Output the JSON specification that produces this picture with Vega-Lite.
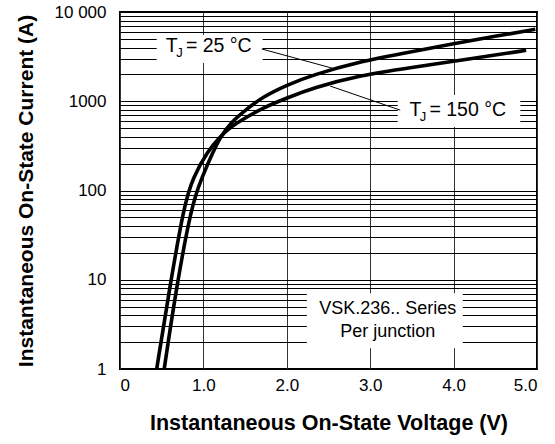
{
  "$schema": "https://vega.github.io/schema/vega-lite/v6.json",
  "width": 417,
  "height": 357,
  "autosize": "none",
  "padding": {"left": 120, "top": 12, "right": 18, "bottom": 75},
  "background": "white",
  "config": {
    "view": {"stroke": "black", "strokeWidth": 2},
    "font": "Liberation Sans"
  },
  "datasets": {
    "curves": [
      {"series": "25", "v": 0.53, "i": 1},
      {"series": "25", "v": 0.67, "i": 7.6},
      {"series": "25", "v": 0.86, "i": 70},
      {"series": "25", "v": 0.983, "i": 140},
      {"series": "25", "v": 1.115, "i": 270},
      {"series": "25", "v": 1.2, "i": 390},
      {"series": "25", "v": 1.32, "i": 570},
      {"series": "25", "v": 1.52, "i": 818},
      {"series": "25", "v": 1.71, "i": 1115},
      {"series": "25", "v": 2.0, "i": 1520},
      {"series": "25", "v": 2.31, "i": 1968},
      {"series": "25", "v": 2.88, "i": 2800},
      {"series": "25", "v": 3.5, "i": 3600},
      {"series": "25", "v": 4.0, "i": 4400},
      {"series": "25", "v": 4.5, "i": 5350},
      {"series": "25", "v": 4.98, "i": 6400},
      {"series": "150", "v": 0.44, "i": 1},
      {"series": "150", "v": 0.59, "i": 7.6},
      {"series": "150", "v": 0.77, "i": 70},
      {"series": "150", "v": 0.875, "i": 140},
      {"series": "150", "v": 1.055, "i": 280},
      {"series": "150", "v": 1.2, "i": 400},
      {"series": "150", "v": 1.32, "i": 514},
      {"series": "150", "v": 1.52, "i": 665},
      {"series": "150", "v": 1.71, "i": 840},
      {"series": "150", "v": 2.0, "i": 1086},
      {"series": "150", "v": 2.31, "i": 1406},
      {"series": "150", "v": 2.88, "i": 1960},
      {"series": "150", "v": 3.5, "i": 2390},
      {"series": "150", "v": 4.0, "i": 2800},
      {"series": "150", "v": 4.5, "i": 3300},
      {"series": "150", "v": 4.87, "i": 3720}
    ],
    "boxes": [
      {"v": 0.44, "v2": 1.71, "i": 2680, "i2": 5520},
      {"v": 3.33, "v2": 4.80, "i": 513, "i2": 1175},
      {"v": 2.24, "v2": 4.11, "i": 1.71, "i2": 7.08}
    ],
    "leaders": [
      {"v": 1.70, "v2": 2.58, "i": 3850, "i2": 2300},
      {"v": 2.52, "v2": 3.36, "i": 1480, "i2": 795}
    ],
    "texts": [
      {"v": 0.55, "i": 4160, "t": "T", "size": 19.5},
      {"v": 0.675, "i": 3500, "t": "J", "size": 13},
      {"v": 0.79, "i": 4160, "t": "= 25 °C", "size": 19.5},
      {"v": 3.47, "i": 795, "t": "T", "size": 19.5},
      {"v": 3.595, "i": 670, "t": "J", "size": 13},
      {"v": 3.71, "i": 795, "t": "= 150 °C", "size": 19.5}
    ],
    "notes": [
      {"v": 3.21, "i": 4.68, "t": "VSK.236.. Series"},
      {"v": 3.21, "i": 2.59, "t": "Per junction"}
    ]
  },
  "encoding": {
    "x": {
      "field": "v",
      "type": "quantitative",
      "scale": {"domain": [0, 5], "nice": false, "zero": false},
      "axis": {
        "title": "Instantaneous On-State Voltage (V)",
        "values": [0, 1, 2, 3, 4, 5],
        "labelExpr": "datum.value == 0 ? '0' : format(datum.value, '.1f')",
        "grid": true,
        "gridColor": "#333333",
        "gridWidth": 1,
        "gridOpacity": 1,
        "ticks": false,
        "domain": false,
        "labelFontSize": 17,
        "labelColor": "black",
        "labelPadding": 8,
        "labelFont": "Liberation Sans",
        "titleFont": "Liberation Sans",
        "titleFontSize": 21.5,
        "titleFontWeight": "bold",
        "titleColor": "black",
        "titlePadding": 19
      }
    },
    "y": {
      "field": "i",
      "type": "quantitative",
      "scale": {"type": "log", "domain": [1, 10000], "nice": false},
      "axis": {
        "title": "Instantaneous On-State Current (A)",
        "values": [1, 2, 3, 4, 5, 6, 7, 8, 9, 10, 20, 30, 40, 50, 60, 70, 80, 90, 100, 200, 300, 400, 500, 600, 700, 800, 900, 1000, 2000, 3000, 4000, 5000, 6000, 7000, 8000, 9000, 10000],
        "labelExpr": "datum.value == 10000 ? '10 000' : (datum.value == 1 || datum.value == 10 || datum.value == 100 || datum.value == 1000) ? toString(datum.value) : ''",
        "labelOverlap": false,
        "labelBound": false,
        "grid": true,
        "gridColor": "black",
        "gridWidth": 1.2,
        "gridOpacity": 1,
        "ticks": false,
        "domain": false,
        "labelFontSize": 17,
        "labelColor": "black",
        "labelPadding": 14,
        "labelFont": "Liberation Sans",
        "titleFont": "Liberation Sans",
        "titleFontSize": 21,
        "titleFontWeight": "bold",
        "titleColor": "black",
        "titlePadding": 18
      }
    }
  },
  "layer": [
    {
      "data": {"name": "boxes"},
      "mark": {"type": "rect", "fill": "white", "stroke": null},
      "encoding": {
        "x2": {"field": "v2"},
        "y2": {"field": "i2"}
      }
    },
    {
      "data": {"name": "leaders"},
      "mark": {"type": "rule", "color": "black", "strokeWidth": 1},
      "encoding": {
        "x2": {"field": "v2"},
        "y2": {"field": "i2"}
      }
    },
    {
      "data": {"name": "curves"},
      "mark": {"type": "line", "color": "black", "strokeWidth": 3.6, "interpolate": "basis", "clip": true},
      "encoding": {
        "detail": {"field": "series", "type": "nominal"}
      }
    },
    {
      "data": {"name": "texts"},
      "mark": {"type": "text", "align": "left", "baseline": "middle", "font": "Liberation Sans", "color": "black"},
      "encoding": {
        "text": {"field": "t"},
        "size": {"field": "size", "type": "quantitative", "scale": null}
      }
    },
    {
      "data": {"name": "notes"},
      "mark": {"type": "text", "align": "center", "baseline": "middle", "font": "Liberation Sans", "fontSize": 18, "color": "black"},
      "encoding": {
        "text": {"field": "t"}
      }
    }
  ]
}
